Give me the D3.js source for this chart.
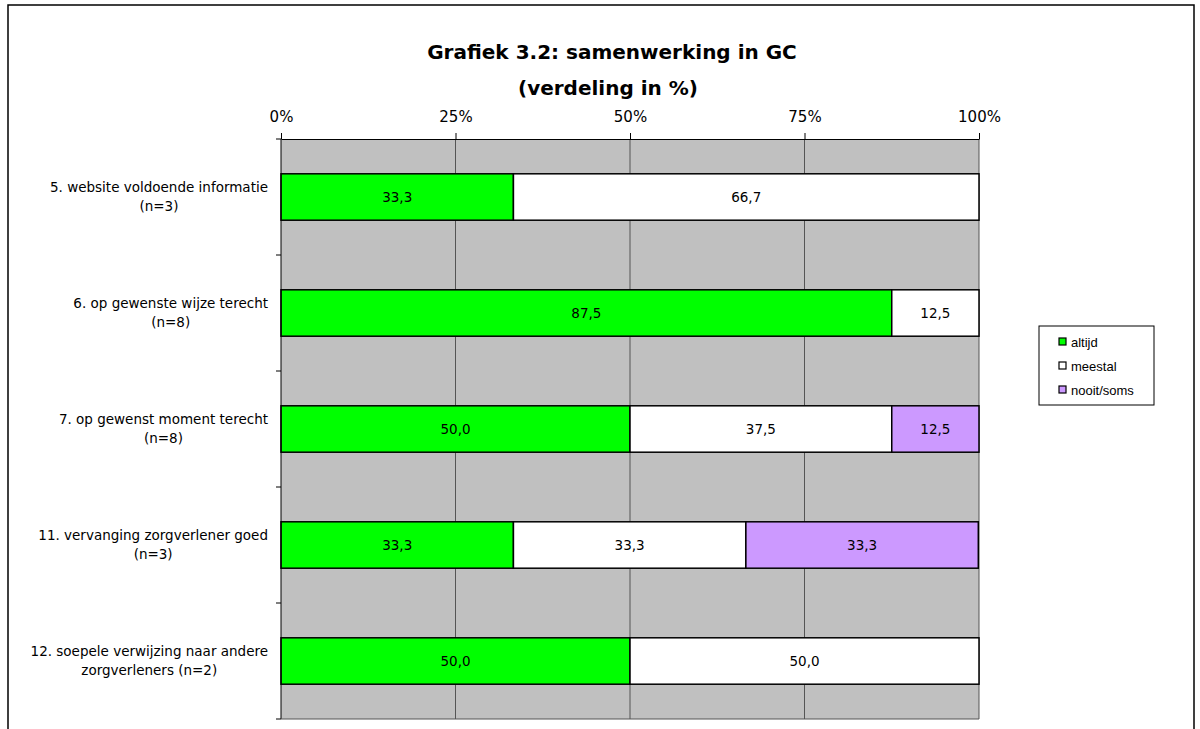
<!DOCTYPE html>
<html>
<head>
<meta charset="utf-8">
<script src="https://cdn.jsdelivr.net/npm/d3@7"></script>
<style>
  body { margin: 0; background: #fff; }
  svg { display: block; }
</style>
</head>
<body>
<div id="chart"></div>
<script>
const categories = [
    ["5. website voldoende informatie", "(n=3)"],
    ["6. op gewenste wijze terecht", "(n=8)"],
    ["7. op gewenst moment terecht", "(n=8)"],
    ["11. vervanging zorgverlener goed", "(n=3)"],
    ["12. soepele verwijzing naar andere", "zorgverleners (n=2)"]
];
const seriesNames = ["altijd", "meestal", "nooit/soms"];
const altijd = [33.3, 87.5, 50.0, 33.3, 50.0];
const meestal = [66.7, 12.5, 37.5, 33.3, 50.0];
const nooitSoms = [0, 0, 12.5, 33.3, 0];
const xTicks = [0, 25, 50, 75, 100];
const colors = ["#00ff00", "#ffffff", "#cc99ff"];

const width = 1200, height = 729;
const plot = {left: 281, right: 979, top: 139, bottom: 719};

const svg = d3.select("#chart").append("svg")
    .attr("width", width)
    .attr("height", height);

// outer frame
svg.append("rect")
    .attr("x", 8).attr("y", 5)
    .attr("width", 1186).attr("height", 740)
    .attr("fill", "none")
    .attr("stroke", "#000")
    .attr("stroke-width", 1.5);

svg.append("text")
    .attr("x", 612).attr("y", 59)
    .attr("text-anchor", "middle")
    .style("font", "bold 20px 'DejaVu Sans', Verdana, sans-serif")
    .text("Grafiek 3.2: samenwerking in GC");
svg.append("text")
    .attr("x", 608).attr("y", 95)
    .attr("text-anchor", "middle")
    .style("font", "bold 20px 'DejaVu Sans', Verdana, sans-serif")
    .text("(verdeling in %)");

const x = d3.scaleLinear().domain([0, 100]).range([plot.left, plot.right]);
const y = d3.scaleBand()
    .domain(d3.range(categories.length))
    .range([plot.top, plot.bottom])
    .paddingInner(0.6).paddingOuter(0.3);

// plot background
svg.append("rect")
    .attr("x", plot.left).attr("y", plot.top)
    .attr("width", plot.right - plot.left)
    .attr("height", plot.bottom - plot.top)
    .attr("fill", "#c0c0c0");

svg.append("g")
    .selectAll("line")
    .data(xTicks.slice(1, -1))
    .join("line")
    .attr("x1", d => x(d)).attr("x2", d => x(d))
    .attr("y1", plot.top).attr("y2", plot.bottom)
    .attr("stroke", "#555")
    .attr("stroke-width", 1);

svg.append("line")
    .attr("x1", plot.right).attr("x2", plot.right)
    .attr("y1", plot.top).attr("y2", plot.bottom)
    .attr("stroke", "#555");

// stacked bars
const rows = categories.map((c, i) => ({i, values: [altijd[i], meestal[i], nooitSoms[i]]}));
const fmt = d3.formatLocale({decimal: ",", thousands: ".", grouping: [3], currency: ["", ""]}).format(".1f");

const segs = [];
rows.forEach(r => {
    let acc = 0;
    r.values.forEach((v, k) => {
        if (v > 0) segs.push({i: r.i, k, x0: acc, x1: acc + v, v});
        acc += v;
    });
});

svg.append("g")
    .selectAll("rect")
    .data(segs)
    .join("rect")
    .attr("x", d => x(d.x0))
    .attr("y", d => y(d.i))
    .attr("width", d => x(d.x1) - x(d.x0))
    .attr("height", y.bandwidth())
    .attr("fill", d => colors[d.k])
    .attr("stroke", "#000")
    .attr("stroke-width", 1.5);

svg.append("g")
    .selectAll("text")
    .data(segs)
    .join("text")
    .attr("x", d => (x(d.x0) + x(d.x1)) / 2)
    .attr("y", d => y(d.i) + y.bandwidth() / 2)
    .attr("dy", "0.35em")
    .attr("text-anchor", "middle")
    .style("font", "13.5px 'DejaVu Sans', Verdana, sans-serif")
    .text(d => fmt(d.v));

// top axis
const xAxis = svg.append("g")
    .attr("transform", `translate(0,${plot.top})`)
    .call(d3.axisTop(x).tickValues(xTicks).tickFormat(d => d + "%").tickSize(6).tickSizeOuter(0));
xAxis.select(".domain").attr("stroke", "#000");
xAxis.selectAll("text")
    .style("font", "15px 'DejaVu Sans', Verdana, sans-serif")
    .attr("fill", "#000")
    .attr("y", -17);

// left axis with ticks at band boundaries
const boundaries = d3.range(categories.length + 1).map(i => plot.top + i * (plot.bottom - plot.top) / categories.length);
svg.append("line")
    .attr("x1", plot.left).attr("x2", plot.left)
    .attr("y1", plot.top).attr("y2", plot.bottom)
    .attr("stroke", "#000");
svg.append("g")
    .selectAll("line")
    .data(boundaries)
    .join("line")
    .attr("x1", plot.left - 5).attr("x2", plot.left)
    .attr("y1", d => d).attr("y2", d => d)
    .attr("stroke", "#000");
svg.append("line")
    .attr("x1", plot.left).attr("x2", plot.right)
    .attr("y1", plot.bottom).attr("y2", plot.bottom)
    .attr("stroke", "#555");

// category labels: block right-aligned, lines centered inside the block
const labelRight = 268;
const labels = svg.append("g")
    .selectAll("text")
    .data(categories)
    .join("text")
    .attr("text-anchor", "middle")
    .style("font", "13.5px 'DejaVu Sans', Verdana, sans-serif")
    .attr("fill", "#000");
labels.each(function(d, i) {
    const cy = y(i) + y.bandwidth() / 2;
    const spans = d.map((line, j) => d3.select(this).append("tspan")
        .attr("y", cy - 5 + j * 19)
        .text(line));
    const w = d3.max(spans, s => s.node().getComputedTextLength());
    spans.forEach(s => s.attr("x", labelRight - w / 2));
});

// legend
const legend = svg.append("g").attr("transform", "translate(1039,326)");
legend.append("rect")
    .attr("width", 115).attr("height", 79)
    .attr("fill", "#fff")
    .attr("stroke", "#000");
const items = legend.selectAll("g")
    .data(seriesNames)
    .join("g")
    .attr("transform", (d, i) => `translate(20,${16 + i * 24})`);
items.append("rect")
    .attr("x", 0).attr("y", -4)
    .attr("width", 7).attr("height", 7)
    .attr("fill", (d, i) => colors[i])
    .attr("stroke", "#000")
    .attr("stroke-width", 1.2);
items.append("text")
    .attr("x", 12).attr("y", 0)
    .attr("dy", "0.35em")
    .style("font", "13px 'Liberation Sans', Arial, sans-serif")
    .text(d => d);
</script>
</body>
</html>
